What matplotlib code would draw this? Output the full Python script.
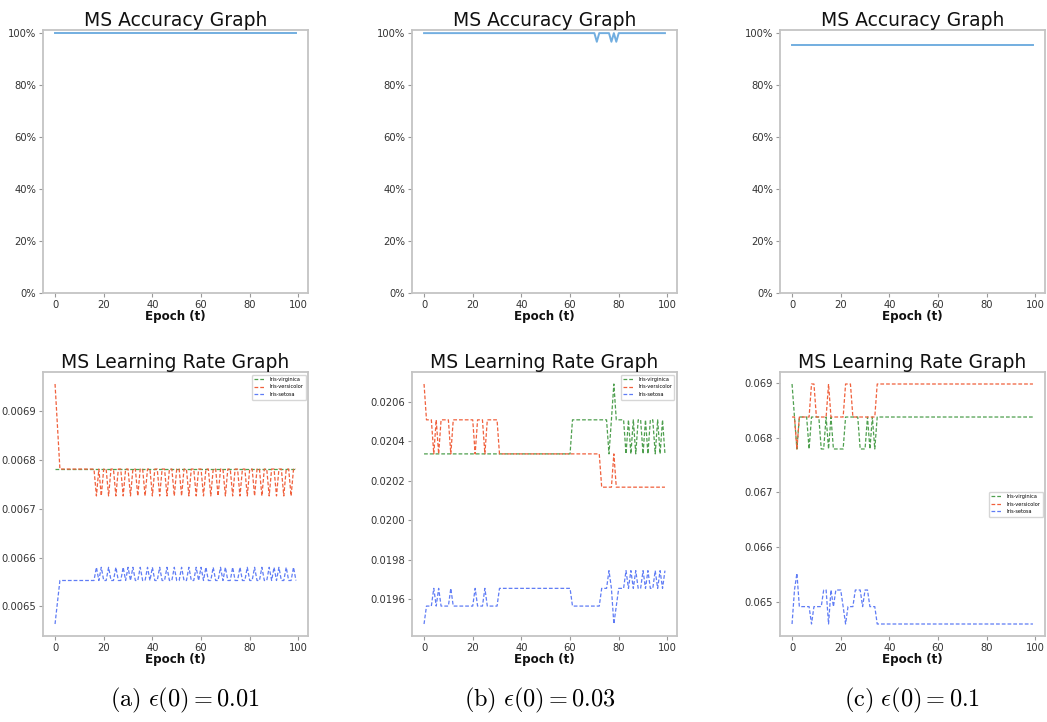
import numpy as np
import matplotlib
matplotlib.use("Agg")
import matplotlib.pyplot as plt
from matplotlib.ticker import PercentFormatter, FormatStrFormatter, MultipleLocator

plt.rcParams['mathtext.fontset'] = 'cm'

epochs = np.arange(100)
classes = ["Iris-virginica", "Iris-versicolor", "Iris-setosa"]
captions = [r"$\mathrm{(a)}\ \epsilon(0) = 0.01$",
            r"$\mathrm{(b)}\ \epsilon(0) = 0.03$",
            r"$\mathrm{(c)}\ \epsilon(0) = 0.1$"]

# each series is stored as one digit per epoch, indexing into its level list
ACC_LEVELS = [1.0, 0.9667, 0.9533]
ACC_A = ("0000000000 0000000000 0000000000 0000000000 0000000000 "
         "0000000000 0000000000 0000000000 0000000000 0000000000")
ACC_B = ("0000000000 0000000000 0000000000 0000000000 0000000000 "
         "0000000000 0000000000 0100000101 0000000000 0000000000")
ACC_C = ("2222222222 2222222222 2222222222 2222222222 2222222222 "
         "2222222222 2222222222 2222222222 2222222222 2222222222")

# eps(0) = 0.01
LR_A_TOP = [0.006726, 0.006781, 0.006868, 0.006955]
LR_A_VIRG = ("1111111111 1111111111 1111111111 1111111111 1111111111 "
             "1111111111 1111111111 1111111111 1111111111 1111111111")
LR_A_VERS = ("3211111111 1111111010 1101101101 1011011011 0110110110 "
             "1101101101 1011011011 0110110110 1101101101 1011011011")
LR_A_SET_LEVELS = [0.006464, 0.006509, 0.006553, 0.006580]
LR_A_SET = ("0122222222 2222222323 2232232232 3232232232 3223223223 "
            "2232232232 3232232232 3223223223 2232232232 3232232232")

# eps(0) = 0.03
LR_B_TOP = [0.020168, 0.020337, 0.020510, 0.020692]
LR_B_VIRG = ("1111111111 1111111111 1111111111 1111111111 1111111111 "
             "1111111111 1222222222 2222221232 2221212122 1212212121")
LR_B_VERS = ("3222121222 2122222222 2122212222 2111111111 1111111111 "
             "1111111111 1111111111 1110000010 0000000000 0000000000")
LR_B_SET_LEVELS = [0.019473, 0.019564, 0.019654, 0.019744]
LR_B_SET = ("0111212111 1211111111 1211121111 1222222222 2222222222 "
            "2222222222 2111111111 1112223201 2223232322 3232232323")

# eps(0) = 0.1
LR_C_TOP = [0.067793, 0.068378, 0.068982]
LR_C_VIRG = ("2101111011 1100101000 0011111100 0101011111 1111111111 "
             "1111111111 1111111111 1111111111 1111111111 1111111111")
LR_C_VERS = ("1101111122 1111121111 1122211111 1111122222 2222222222 "
             "2222222222 2222222222 2222222222 2222222222 2222222222")
LR_C_SET_LEVELS = [0.064591, 0.064909, 0.065213, 0.065518]
LR_C_SET = ("0231111101 1112202122 2101112221 2211100000 0000000000 "
            "0000000000 0000000000 0000000000 0000000000 0000000000")


def series(codes, levels):
    vals = [levels[int(c)] for c in codes.replace(" ", "")]
    assert len(vals) == 100
    return vals


acc_runs = [series(ACC_A, ACC_LEVELS), series(ACC_B, ACC_LEVELS), series(ACC_C, ACC_LEVELS)]
lr_runs = [
    (series(LR_A_VIRG, LR_A_TOP), series(LR_A_VERS, LR_A_TOP), series(LR_A_SET, LR_A_SET_LEVELS)),
    (series(LR_B_VIRG, LR_B_TOP), series(LR_B_VERS, LR_B_TOP), series(LR_B_SET, LR_B_SET_LEVELS)),
    (series(LR_C_VIRG, LR_C_TOP), series(LR_C_VERS, LR_C_TOP), series(LR_C_SET, LR_C_SET_LEVELS)),
]
lr_tick_step = [0.0001, 0.0002, 0.001]
lr_tick_fmt = ['%.4f', '%.4f', '%.3f']
legend_loc = ['upper right', 'upper right', 'center right']

class_colors = ['#4e9f4e', '#f0603c', '#5f7cf5']
acc_color = '#72aee0'
spine_color = '#c4c4c4'
text_color = '#333333'

W, H = 1047, 722
fig = plt.figure(figsize=(W / 100, H / 100), dpi=100)

col_left = [43, 412, 780]
col_width = 265
caption_x = [185, 540, 912]
top_row = (30, 293)
bot_row = (372, 636)


def px_axes(x0, y0, y1):
    return fig.add_axes([x0 / W, 1 - y1 / H, col_width / W, (y1 - y0) / H])


def style(ax):
    for s in ax.spines.values():
        s.set_color(spine_color)
        s.set_linewidth(1.3)
    ax.tick_params(labelsize=7.2, labelcolor=text_color, color='#999999',
                   length=3, width=0.8, pad=2)
    ax.set_xlabel("Epoch (t)", fontsize=8.6, fontweight='bold', labelpad=0,
                  color='#111111')
    ax.set_xticks([0, 20, 40, 60, 80, 100])


for i in range(3):
    ax = px_axes(col_left[i], *top_row)
    ax.plot(epochs, acc_runs[i], color=acc_color, lw=1.4)
    ax.set_ylim(0, 1.012)
    ax.set_yticks([0, 0.2, 0.4, 0.6, 0.8, 1.0])
    ax.yaxis.set_major_formatter(PercentFormatter(1.0, decimals=0))
    ax.set_title("MS Accuracy Graph", fontsize=13.5, pad=2, color='#111111')
    style(ax)

    ax = px_axes(col_left[i], *bot_row)
    for name, vals, c in zip(classes, lr_runs[i], class_colors):
        ax.plot(epochs, vals, color=c, lw=0.9, ls=(0, (3, 1.6)), label=name)
    ax.yaxis.set_major_locator(MultipleLocator(lr_tick_step[i]))
    ax.yaxis.set_major_formatter(FormatStrFormatter(lr_tick_fmt[i]))
    ax.set_title("MS Learning Rate Graph", fontsize=13.5, pad=2, color='#111111')
    style(ax)
    ax.legend(loc=legend_loc[i], fontsize=3.6, handlelength=2.2,
              borderpad=0.5, labelspacing=0.5, framealpha=0.8)

    fig.text(caption_x[i] / W, 1 - 700 / H, captions[i],
             ha='center', va='center', fontsize=17.5)

fig.savefig("out.png", dpi=100)
